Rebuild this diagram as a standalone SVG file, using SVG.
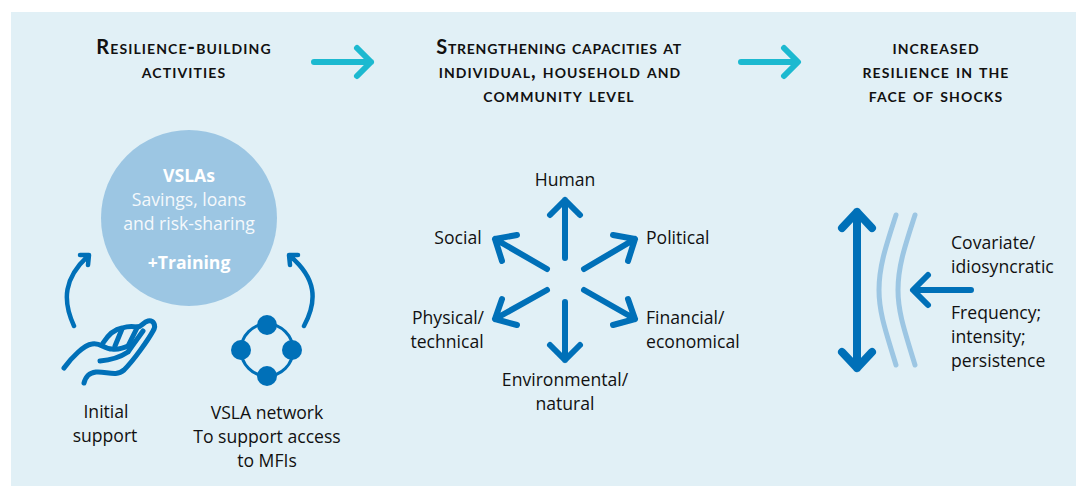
<svg xmlns="http://www.w3.org/2000/svg" width="1076" height="486" viewBox="0 0 1076 486">
<style>
text{font-family:"Open Sans","Noto Sans",sans-serif;font-size:17.6px;fill:#111;text-anchor:middle}
text.h{font-family:Lato,"Open Sans",sans-serif;font-variant:small-caps;font-size:20px;font-weight:700;letter-spacing:1.1px}
.s{text-anchor:start}
.w{fill:#fff;opacity:.9}
.b{fill:#fff;font-weight:700}
.a{fill:none;stroke:#0070b8;stroke-width:6;stroke-linecap:round;stroke-linejoin:round}
.c{fill:none;stroke:#1cb9d0;stroke-width:6;stroke-linecap:round;stroke-linejoin:round}
.l{fill:none;stroke:#9cc6e3;stroke-width:5;stroke-linecap:round}
.i{fill:none;stroke:#0070b8;stroke-width:5;stroke-linecap:round;stroke-linejoin:round}
</style>
<rect x="11" y="12" width="1065" height="474" fill="#e1f0f6"/>
<g id="header-activities"><text class="h" x="184" y="54">Resilience-building</text><text class="h" x="184" y="78">activities</text></g>
<g id="header-capacities"><text class="h" x="559" y="54" style="letter-spacing:.75px">Strengthening capacities at</text><text class="h" x="560" y="78">individual, household and</text><text class="h" x="559" y="102">community level</text></g>
<g id="header-resilience"><text class="h" x="936" y="54">increased</text><text class="h" x="936" y="78">resilience in the</text><text class="h" x="936" y="102">face of shocks</text></g>
<g id="vsla-circle"><circle cx="189" cy="218" r="88" fill="#9cc6e3"/>
<text class="b" x="189" y="182">VSLAs</text><text class="w" x="189" y="206">Savings, loans</text><text class="w" x="189" y="230">and risk-sharing</text><text class="b" x="189" y="269">+Training</text></g>
<g id="initial-support"><g class="i">
<path d="M64 368C72 357 84 345 92 344C100 342 104 349 112 349C120 350 126 347 130 345"/>
<path d="M100 361C112 360 122 356 128 352C132 346 138 338 143 331"/>
<path d="M84 383C86 376 89 373 96 372C106 371 116 377 124 370C134 360 148 340 153 331C157 325 153 320 148 321C143 322 142 327 137 327"/>
<path d="M103 343C110 332 116 329 122 328C128 326 132 326 137 327"/>
<path d="M122 329L115 346M137 328L129 344"/></g>
<text x="106" y="418">Initial</text><text x="105" y="442">support</text></g>
<g id="vsla-network"><circle cx="267" cy="350" r="26" fill="none" stroke="#0070b8" stroke-width="3"/>
<g fill="#0070b8"><circle cx="267" cy="325" r="10"/><circle cx="241" cy="350" r="10"/><circle cx="292" cy="350" r="10"/><circle cx="267" cy="376" r="10"/></g>
<text x="267" y="419">VSLA network</text><text x="267" y="443">To support access</text><text x="267" y="467">to MFIs</text></g>
<g id="capacity-labels">
<text x="565" y="186">Human</text><text class="s" x="646" y="244">Political</text><text x="458" y="244">Social</text>
<text x="448" y="324">Physical/</text><text x="447" y="348">technical</text>
<text class="s" x="646" y="324">Financial/</text><text class="s" x="646" y="348">economical</text>
<text x="565" y="386">Environmental/</text><text x="565" y="410">natural</text></g>
<g id="shock-labels"><text class="s" x="951" y="249">Covariate/</text><text class="s" x="951" y="273">idiosyncratic</text>
<text class="s" x="951" y="319">Frequency;</text><text class="s" x="951" y="343">intensity;</text><text class="s" x="951" y="367">persistence</text></g>
<g id="buffer"><path class="l" d="M896 215C886 246 879 266 879 290C879 314 887 335 896 365"/><path class="l" d="M915 215C905 246 898 266 898 290C898 314 906 335 915 365"/></g>
<g id="connectors">
<path class="c" d="M314 62H371M357 48L371 62L357 76"/>
<path class="c" d="M741 62H797M784 48L798 62L784 76"/>
<path class="a" style="stroke-width:4.5" d="M74 326C62 300 64 278 88 256M80 255L89 255L88 265"/>
<path class="a" style="stroke-width:4.5" d="M304 326C318 300 316 278 290 256M298 255L289 255L290 265"/>
<path class="a" d="M565 258V200M550 215L565 200L580 215"/>
<path class="a" d="M565 302V360M550 345L565 360L580 345"/>
<path class="a" d="M584 269L635 239M613 235L635 239L628 261"/>
<path class="a" d="M547 269L495 239M517 235L495 239L502 261"/>
<path class="a" d="M584 290L635 319M628 299L635 319L613 325"/>
<path class="a" d="M547 290L495 319M502 299L495 319L517 325"/>
<path class="a" style="stroke-width:8" d="M857 212V368M842 228L857 212L872 228M842 352L857 368L872 352"/>
<path class="a" d="M971 290H914M928 275L913 290L928 305"/>
</g>
</svg>
